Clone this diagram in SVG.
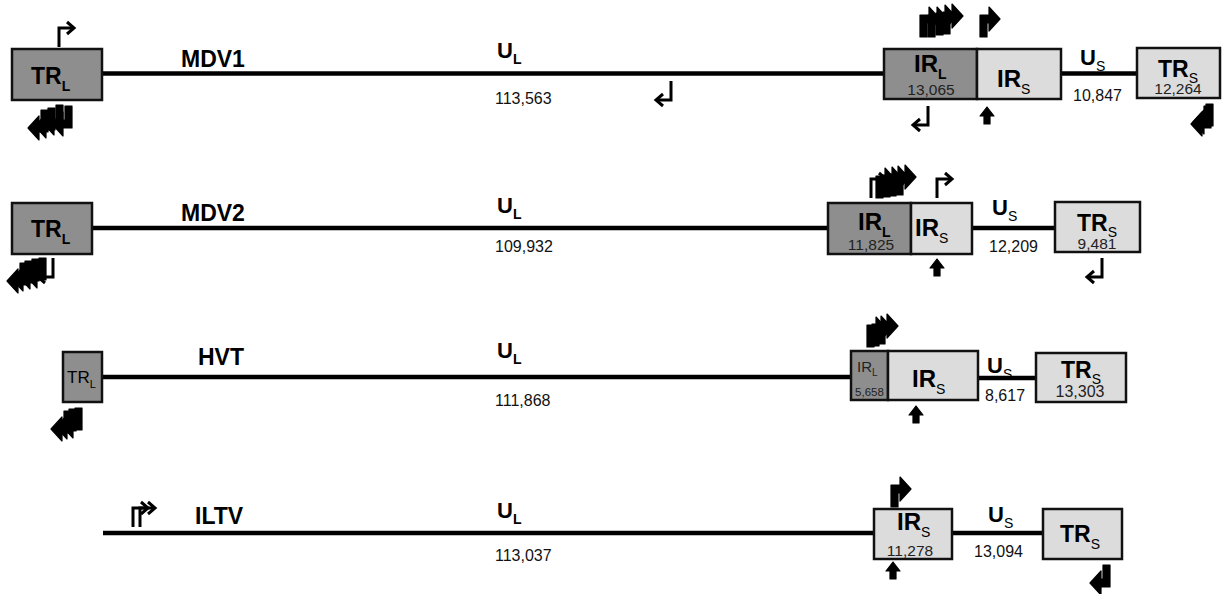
<svg xmlns="http://www.w3.org/2000/svg" xmlns:xlink="http://www.w3.org/1999/xlink" width="1222" height="594" viewBox="0 0 1222 594">
<style>
text{font-family:"Liberation Sans",Arial,sans-serif;fill:#000}
.lbl{font-size:23px;font-weight:bold}
.big{font-size:23px;font-weight:bold}
.subB{font-size:14px;font-weight:bold}
.sub{font-size:14px;font-weight:normal}
.num{font-size:16px;fill:#111}
.bnum{font-size:15.5px;fill:#222}
.dk{fill:#8e8e8e;stroke:#111;stroke-width:2.5}
.lt{fill:#dcdcdc;stroke:#111;stroke-width:2.5}
.ln{stroke:#000;stroke-width:4.5;fill:none}
.hol{fill:none;stroke:#000;stroke-width:3;stroke-linejoin:miter}
.fil{fill:#000;stroke:#000;stroke-width:1.2;stroke-linejoin:round}
</style>
<defs>
<path id="fa" class="fil" d="M0,0 L0,-22 L9,-22 L9,-30 L20,-18 L9,-6 L9,-14 L7,-14 L7,0 Z"/>
<g id="ha"><path class="hol" d="M0,0 V-19 H13"/><path class="hol" d="M8,-25 L15,-19 L8,-13"/></g>
<path id="up" class="fil" d="M-3,0 V-8 H-7 L0,-17 L7,-8 H3 V0 Z"/>
</defs>

<g id="connectors">
<line class="ln" x1="102" y1="73.5" x2="884" y2="73.5"/>
<line class="ln" x1="1061" y1="73.5" x2="1137" y2="73.5"/>
<line class="ln" x1="92" y1="228" x2="828" y2="228"/>
<line class="ln" x1="972" y1="228" x2="1055" y2="228"/>
<line class="ln" x1="102" y1="377" x2="851" y2="377"/>
<line class="ln" x1="978" y1="378" x2="1036" y2="378"/>
<line class="ln" x1="103" y1="533" x2="874" y2="533"/>
<line class="ln" x1="952" y1="533" x2="1043" y2="533"/>
</g>

<!-- MDV1 -->
<g id="mdv1-trl">
<rect class="dk" x="12" y="49" width="90" height="51"/>
<text class="big" x="31" y="84">TR<tspan class="subB" dy="7">L</tspan></text>
<use xlink:href="#ha" x="59" y="47"/>
<use xlink:href="#fa" transform="translate(72,106) rotate(180)"/>
<use xlink:href="#fa" transform="translate(63,105) rotate(180)"/>
<use xlink:href="#fa" transform="translate(55,108) rotate(180)"/>
<use xlink:href="#fa" transform="translate(48,110) rotate(180)"/>
</g>
<g id="mdv1-ul">
<text class="lbl" x="181" y="67">MDV1</text>
<text class="big" x="497" y="58" style="font-size:22px">U<tspan class="subB" dy="6">L</tspan></text>
<text class="num" x="495" y="104">113,563</text>
<use xlink:href="#ha" transform="translate(671,81) rotate(180)"/>
</g>
<g id="mdv1-irl">
<rect class="dk" x="884" y="49" width="93" height="50"/>
<text class="big" x="914" y="72" style="font-size:24px">IR<tspan class="subB" dy="7">L</tspan></text>
<text class="bnum" x="931" y="95" text-anchor="middle">13,065</text>
<use xlink:href="#fa" x="920" y="37"/>
<use xlink:href="#fa" x="928" y="37"/>
<use xlink:href="#fa" x="936" y="35"/>
<use xlink:href="#fa" x="943" y="34"/>
<use xlink:href="#ha" transform="translate(928,106) rotate(180)"/>
</g>
<g id="mdv1-irs">
<rect class="lt" x="977" y="49" width="84" height="50"/>
<text class="big" x="997" y="87" style="font-size:24px">IR<tspan class="sub" dy="7">S</tspan></text>
<use xlink:href="#fa" x="980" y="37"/>
<use xlink:href="#up" x="987" y="124"/>
</g>
<g id="mdv1-us">
<text class="big" x="1080" y="65" style="font-size:22px">U<tspan class="sub" dy="6">S</tspan></text>
<text class="num" x="1073" y="101">10,847</text>
</g>
<g id="mdv1-trs">
<rect class="lt" x="1137" y="48" width="83" height="50"/>
<text class="big" x="1178" y="77" text-anchor="middle">TR<tspan class="sub" dy="6">S</tspan></text>
<text class="bnum" x="1178" y="94" text-anchor="middle">12,264</text>
<use xlink:href="#fa" transform="translate(1211,106) rotate(180)"/>
<use xlink:href="#fa" transform="translate(1213,104) rotate(180)"/>
</g>

<!-- MDV2 -->
<g id="mdv2-trl">
<rect class="dk" x="12" y="203" width="80" height="51"/>
<text class="big" x="31" y="237">TR<tspan class="subB" dy="7">L</tspan></text>
<use xlink:href="#ha" transform="translate(53,258) rotate(180)"/>
<use xlink:href="#fa" transform="translate(46,258) rotate(180)"/>
<use xlink:href="#fa" transform="translate(39,259) rotate(180)"/>
<use xlink:href="#fa" transform="translate(32,261) rotate(180)"/>
<use xlink:href="#fa" transform="translate(27,263) rotate(180)"/>
</g>
<g id="mdv2-ul">
<text class="lbl" x="181" y="221">MDV2</text>
<text class="big" x="497" y="213" style="font-size:22px">U<tspan class="subB" dy="6">L</tspan></text>
<text class="num" x="495" y="252">109,932</text>
</g>
<g id="mdv2-irl">
<rect class="dk" x="828" y="203" width="83" height="51"/>
<text class="big" x="858" y="230" style="font-size:24px">IR<tspan class="subB" dy="7">L</tspan></text>
<text class="bnum" x="871" y="250" text-anchor="middle">11,825</text>
<use xlink:href="#ha" x="871" y="198"/>
<use xlink:href="#fa" x="876" y="198"/>
<use xlink:href="#fa" x="883" y="197"/>
<use xlink:href="#fa" x="889" y="196"/>
<use xlink:href="#fa" x="896" y="195"/>
</g>
<g id="mdv2-irs">
<rect class="lt" x="911" y="203" width="61" height="51"/>
<text class="big" x="915" y="236" style="font-size:24px">IR<tspan class="sub" dy="7">S</tspan></text>
<use xlink:href="#ha" x="937" y="198"/>
<use xlink:href="#up" x="937" y="276"/>
</g>
<g id="mdv2-us">
<text class="big" x="992" y="215" style="font-size:22px">U<tspan class="sub" dy="6">S</tspan></text>
<text class="num" x="989" y="252">12,209</text>
</g>
<g id="mdv2-trs">
<rect class="lt" x="1055" y="202" width="85" height="50"/>
<text class="big" x="1097" y="231" text-anchor="middle">TR<tspan class="sub" dy="6">S</tspan></text>
<text class="bnum" x="1097" y="249" text-anchor="middle">9,481</text>
<use xlink:href="#ha" transform="translate(1102,258) rotate(180)"/>
</g>

<!-- HVT -->
<g id="hvt-trl">
<rect class="dk" x="63" y="352" width="39" height="50"/>
<text x="67" y="383" style="font-size:17px">TR<tspan style="font-size:11px" dy="5">L</tspan></text>
<use xlink:href="#fa" transform="translate(82,408) rotate(180)"/>
<use xlink:href="#fa" transform="translate(76,409) rotate(180)"/>
<use xlink:href="#fa" transform="translate(71,411) rotate(180)"/>
</g>
<g id="hvt-ul">
<text class="lbl" x="198" y="365">HVT</text>
<text class="big" x="497" y="358" style="font-size:22px">U<tspan class="subB" dy="6">L</tspan></text>
<text class="num" x="495" y="406">111,868</text>
</g>
<g id="hvt-irl">
<rect class="dk" x="851" y="351" width="37" height="49"/>
<text x="857" y="372" style="font-size:15px;fill:#222">IR<tspan style="font-size:10px" dy="4">L</tspan></text>
<text x="869.5" y="396" text-anchor="middle" style="font-size:11.5px;fill:#222">5,658</text>
<use xlink:href="#fa" x="867" y="347"/>
<use xlink:href="#fa" x="872" y="346"/>
<use xlink:href="#fa" x="878" y="344"/>
</g>
<g id="hvt-irs">
<rect class="lt" x="888" y="351" width="90" height="49"/>
<text class="big" x="912" y="387" style="font-size:24px">IR<tspan class="sub" dy="7">S</tspan></text>
<use xlink:href="#up" x="916" y="423"/>
</g>
<g id="hvt-us">
<text class="big" x="987" y="373" style="font-size:22px">U<tspan class="sub" dy="6">S</tspan></text>
<text class="num" x="985" y="401">8,617</text>
</g>
<g id="hvt-trs">
<rect class="lt" x="1036" y="353" width="90" height="49"/>
<text class="big" x="1081" y="378" text-anchor="middle">TR<tspan class="sub" dy="6">S</tspan></text>
<text class="bnum" x="1080" y="397" text-anchor="middle" style="font-size:16px">13,303</text>
</g>

<!-- ILTV -->
<g id="iltv-ul">
<use xlink:href="#ha" x="133" y="527"/>
<use xlink:href="#ha" x="140" y="527"/>
<text class="lbl" x="195" y="524">ILTV</text>
<text class="big" x="497" y="518" style="font-size:22px">U<tspan class="subB" dy="6">L</tspan></text>
<text class="num" x="495" y="561">113,037</text>
</g>
<g id="iltv-irs">
<rect class="lt" x="874" y="509" width="78" height="50"/>
<text class="big" x="897" y="530" style="font-size:24px">IR<tspan class="sub" dy="7">S</tspan></text>
<text class="bnum" x="910" y="556" text-anchor="middle">11,278</text>
<use xlink:href="#fa" x="891" y="507"/>
<use xlink:href="#up" x="893" y="579"/>
</g>
<g id="iltv-us">
<text class="big" x="988" y="522" style="font-size:22px">U<tspan class="sub" dy="6">S</tspan></text>
<text class="num" x="974" y="557">13,094</text>
</g>
<g id="iltv-trs">
<rect class="lt" x="1043" y="509" width="79" height="50"/>
<text class="big" x="1080" y="542" text-anchor="middle">TR<tspan class="sub" dy="7">S</tspan></text>
<use xlink:href="#fa" transform="translate(1110,565) rotate(180)"/>
</g>
</svg>
